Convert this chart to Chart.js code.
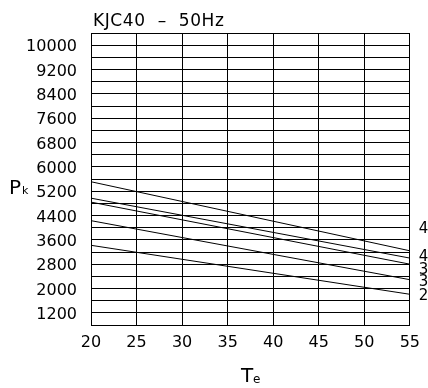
<!DOCTYPE html>
<html>
<head>
<meta charset="utf-8">
<script src="https://cdn.jsdelivr.net/npm/chart.js@4.4.1/dist/chart.umd.min.js"></script>
<style>
  html, body { margin: 0; padding: 0; background: #fff; }
  #wrap { width: 428px; height: 388px; }
</style>
</head>
<body>
<div id="wrap"><canvas id="pkChart" width="428" height="388"></canvas></div>
<script>
// Te (evaporating temperature) end points of each curve
const tempEnds = [20, 55];
// Pk values read at Te = 20 and Te = 55
const curve45 = [5510, 3240];
const curve40 = [4970, 3000];
const curve35 = [4840, 2800];
const curve30 = [4230, 2290];
const curve25 = [3420, 1810];
const curveNames = ["45", "40", "35", "30", "25"];
// Pk level where each curve name sits at the right edge
const nameLevels = [3950, 3030, 2600, 2200, 1740];

const xTickLabels = [20, 25, 30, 35, 40, 45, 50, 55];
const yTickLabels = [10000, 9200, 8400, 7600, 6800, 6000, 5200, 4400, 3600, 2800, 2000, 1200];

const FONT = "'DejaVu Sans', sans-serif";
const curves = [curve45, curve40, curve35, curve30, curve25];

const extras = {
  id: "extras",
  afterDraw(chart) {
    const ctx = chart.ctx;
    const area = chart.chartArea;
    const ys = chart.scales.y;
    ctx.save();
    ctx.fillStyle = "#000";
    ctx.textBaseline = "alphabetic";

    // title
    ctx.letterSpacing = "0.6px";
    ctx.font = "17px " + FONT;
    ctx.textAlign = "left";
    ctx.fillText("KJC40  \u2013  50Hz", area.left + 2, 26);
    ctx.letterSpacing = "0px";

    // y axis title Pk
    ctx.font = "20px " + FONT;
    ctx.fillText("P", 9, 194);
    ctx.font = "11px " + FONT;
    ctx.fillText("k", 22, 194);

    // x axis title Te
    ctx.font = "20px " + FONT;
    ctx.fillText("T", 241, 382);
    ctx.font = "12px " + FONT;
    ctx.fillText("e", 253, 383);

    // curve names, clipped by the canvas edge
    ctx.font = "15px " + FONT;
    ctx.textBaseline = "middle";
    curveNames.forEach((name, i) => {
      ctx.fillText(name, area.right + 9, ys.getPixelForValue(nameLevels[i]));
    });
    ctx.restore();
  }
};

new Chart(document.getElementById("pkChart"), {
  type: "line",
  data: {
    datasets: curves.map((c, i) => ({
      label: curveNames[i],
      data: tempEnds.map((t, j) => ({ x: t, y: c[j] })),
      borderColor: "#000",
      borderWidth: 1,
      pointRadius: 0,
      fill: false,
      tension: 0
    }))
  },
  options: {
    responsive: false,
    animation: false,
    layout: { padding: { top: 33, right: 16, left: 0, bottom: 0 } },
    plugins: {
      legend: { display: false },
      tooltip: { enabled: false }
    },
    scales: {
      x: {
        type: "linear",
        min: 20,
        max: 55,
        afterFit: (s) => { s.height = 63; },
        afterBuildTicks: (s) => { s.ticks = xTickLabels.map(v => ({ value: v })); },
        ticks: {
          color: "#000",
          font: { family: FONT, size: 16 },
          padding: 8,
          maxRotation: 0,
          callback: (v) => String(v)
        },
        grid: { color: "#000", lineWidth: 1, drawTicks: false },
        border: { color: "#000", width: 1 }
      },
      y: {
        min: 800,
        max: 10400,
        afterFit: (s) => { s.width = 91; },
        ticks: {
          stepSize: 400,
          autoSkip: false,
          color: "#000",
          font: { family: FONT, size: 16 },
          padding: 14,
          labelOffset: 2,
          callback: (v) => yTickLabels.includes(v) ? String(v) : ""
        },
        grid: { color: "#000", lineWidth: 1, drawTicks: false },
        border: { color: "#000", width: 1 }
      }
    }
  },
  plugins: [extras]
});
</script>
</body>
</html>
